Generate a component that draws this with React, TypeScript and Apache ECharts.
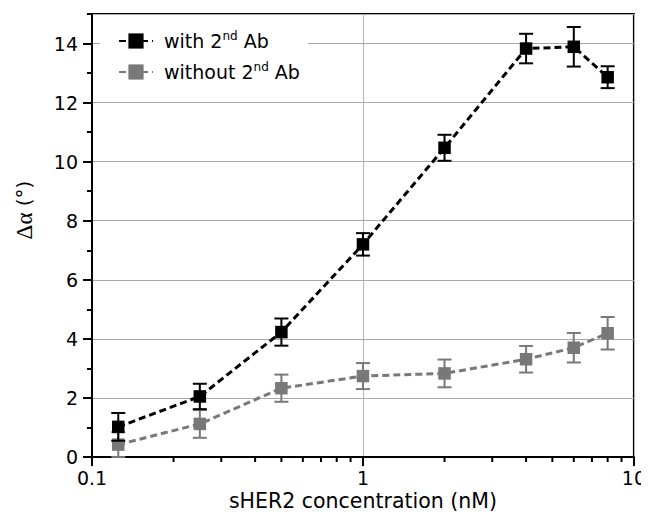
import React, { useEffect, useRef } from "react";
import * as echarts from "echarts";

const conc = [0.125, 0.25, 0.5, 1, 2, 4, 6, 8];
const withAb = [1.02, 2.05, 4.23, 7.2, 10.47, 13.83, 13.89, 12.86];
const withAbErr = [0.47, 0.43, 0.46, 0.38, 0.44, 0.5, 0.67, 0.37];
const withoutAb = [0.42, 1.12, 2.33, 2.74, 2.83, 3.31, 3.7, 4.19];
const withoutAbErr = [0.42, 0.47, 0.46, 0.44, 0.47, 0.45, 0.5, 0.55];
const xMinorTicks = [0.2, 0.3, 0.4, 0.5, 0.6, 0.7, 0.8, 0.9, 2, 3, 4, 5, 6, 7, 8, 9];
const seriesNames = ["with 2nd Ab", "without 2nd Ab"];

const FONT = "DejaVu Sans";
const BLACK = "#000000";
const GRAY = "#787878";

function errSeries(vals: number[], errs: number[], color: string, z: number) {
  return {
    type: "custom",
    z,
    clip: false,
    silent: true,
    encode: { x: 0, y: 1 },
    data: conc.map((c, i) => [c, vals[i], errs[i]]),
    renderItem: (params: any, api: any) => {
      const x = api.value(0);
      const y = api.value(1);
      const e = api.value(2);
      const top = api.coord([x, y + e]);
      const bot = api.coord([x, y - e]);
      const w = 7;
      const st = { stroke: color, lineWidth: 2 };
      return {
        type: "group",
        children: [
          { type: "line", shape: { x1: top[0], y1: top[1], x2: bot[0], y2: bot[1] }, style: st },
          { type: "line", shape: { x1: top[0] - w, y1: top[1], x2: top[0] + w, y2: top[1] }, style: st },
          { type: "line", shape: { x1: bot[0] - w, y1: bot[1], x2: bot[0] + w, y2: bot[1] }, style: st },
        ],
      };
    },
  };
}

function lineSeries(name: string, vals: number[], color: string, z: number) {
  return {
    type: "line",
    name,
    z,
    data: conc.map((c, i) => [c, vals[i]]),
    symbol: "rect",
    symbolSize: 12.5,
    showSymbol: true,
    itemStyle: { color },
    lineStyle: { color, width: 3, type: [7, 4] },
  };
}

export default function App() {
  const ref = useRef<HTMLDivElement>(null);
  useEffect(() => {
    if (!ref.current) return;
    const chart = echarts.init(ref.current, undefined, { renderer: "svg" });
    chart.setOption({
      animation: false,
      backgroundColor: "#ffffff",
      textStyle: { fontFamily: FONT },
      grid: {
        left: 92,
        right: 12,
        top: 14,
        bottom: 62,
        show: true,
        borderColor: "#000",
        borderWidth: 2,
        backgroundColor: "transparent",
      },
      legend: {
        data: seriesNames,
        orient: "vertical",
        left: 100,
        top: 26,
        padding: [4, 8, 4, 18],
        backgroundColor: "#ffffff",
        itemWidth: 34,
        itemHeight: 19,
        itemGap: 9,
        formatter: (n: string) => n.replace("2nd", "2{sup|nd}"),
        textStyle: {
          fontFamily: FONT,
          fontSize: 19,
          color: "#000",
          padding: [0, 0, 0, 6],
          lineHeight: 22,
          rich: {
            sup: { fontSize: 12, fontFamily: FONT, verticalAlign: "top", lineHeight: 22, padding: [0, 0, 8, 0] },
          },
        },
      },
      xAxis: [
        {
          type: "log",
          logBase: 10,
          min: 0.1,
          max: 10,
          name: "sHER2 concentration (nM)",
          nameLocation: "middle",
          nameGap: 35,
          nameMoveOverlap: false,
          nameTextStyle: { fontFamily: FONT, fontSize: 20.5, color: "#000", lineHeight: 18 },
          axisLine: { show: true, onZero: false, lineStyle: { color: "#000", width: 2 } },
          axisTick: { show: true, inside: false, length: 9, lineStyle: { color: "#000", width: 2 } },
          axisLabel: { fontFamily: FONT, fontSize: 19, color: "#000", margin: 12, lineHeight: 17 },
          splitLine: { show: true, lineStyle: { color: "#b4b4b4", width: 1 } },
          minorTick: { show: false },
        },
      ],
      yAxis: [
        {
          type: "value",
          min: 0,
          max: 15,
          interval: 2,
          axisLine: { show: true, onZero: false, lineStyle: { color: "#000", width: 2 } },
          axisTick: { show: true, inside: false, length: 9, lineStyle: { color: "#000", width: 2 } },
          axisLabel: { fontFamily: FONT, fontSize: 19, color: "#000", margin: 14, showMaxLabel: false },
          splitLine: { show: true, lineStyle: { color: "#a8a8a8", width: 1 } },
        },
        {
          type: "value",
          min: 0,
          max: 15,
          interval: 1,
          position: "left",
          axisLine: { show: false },
          axisTick: { show: true, inside: false, length: 5, lineStyle: { color: "#000", width: 2 } },
          axisLabel: { show: false },
          splitLine: { show: false },
        },
      ],
      graphic: [
        {
          type: "text",
          x: 24,
          y: 210,
          rotation: Math.PI / 2,
          style: {
            text: "{g|Δα} (°)",
            fontFamily: FONT,
            fontSize: 20,
            fill: "#000",
            align: "center",
            verticalAlign: "middle",
            rich: {
              g: { fontFamily: "Liberation Serif", fontSize: 23, fill: "#000" },
            },
          },
        },
      ],
      series: [
        {
          type: "custom",
          z: 1,
          clip: false,
          silent: true,
          encode: { x: 0, y: 1 },
          data: xMinorTicks.map((v) => [v, 0]),
          renderItem: (params: any, api: any) => {
            const p = api.coord([api.value(0), api.value(1)]);
            return {
              type: "line",
              shape: { x1: p[0], y1: p[1], x2: p[0], y2: p[1] + 5 },
              style: { stroke: "#000", lineWidth: 2 },
            };
          },
        },
        errSeries(withoutAb, withoutAbErr, GRAY, 2),
        lineSeries(seriesNames[1], withoutAb, GRAY, 3),
        errSeries(withAb, withAbErr, BLACK, 4),
        lineSeries(seriesNames[0], withAb, BLACK, 5),
      ],
    });
    return () => chart.dispose();
  }, []);
  return <div ref={ref} style={{ width: 649, height: 519, margin: -8 }} />;
}
